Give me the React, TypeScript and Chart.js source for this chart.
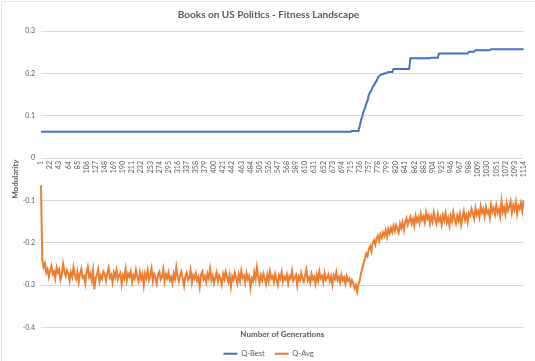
import React, { useEffect, useRef } from "react";
import { Chart, registerables } from "chart.js";

Chart.register(...registerables);

const TITLE = "Books on US Politics - Fitness Landscape";
const Y_TITLE = "Modularity";
const X_TITLE = "Number of Generations";

// Generations sampled every 3 (tick labels shown every 21)
const GENERATIONS = [
  1, 4, 7, 10, 13, 16, 19, 22, 25, 28, 31, 34, 37, 40, 43, 46, 49, 52, 55, 58,
  61, 64, 67, 70, 73, 76, 79, 82, 85, 88, 91, 94, 97, 100, 103, 106, 109, 112, 115, 118,
  121, 124, 127, 130, 133, 136, 139, 142, 145, 148, 151, 154, 157, 160, 163, 166, 169, 172, 175, 178,
  181, 184, 187, 190, 193, 196, 199, 202, 205, 208, 211, 214, 217, 220, 223, 226, 229, 232, 235, 238,
  241, 244, 247, 250, 253, 256, 259, 262, 265, 268, 271, 274, 277, 280, 283, 286, 289, 292, 295, 298,
  301, 304, 307, 310, 313, 316, 319, 322, 325, 328, 331, 334, 337, 340, 343, 346, 349, 352, 355, 358,
  361, 364, 367, 370, 373, 376, 379, 382, 385, 388, 391, 394, 397, 400, 403, 406, 409, 412, 415, 418,
  421, 424, 427, 430, 433, 436, 439, 442, 445, 448, 451, 454, 457, 460, 463, 466, 469, 472, 475, 478,
  481, 484, 487, 490, 493, 496, 499, 502, 505, 508, 511, 514, 517, 520, 523, 526, 529, 532, 535, 538,
  541, 544, 547, 550, 553, 556, 559, 562, 565, 568, 571, 574, 577, 580, 583, 586, 589, 592, 595, 598,
  601, 604, 607, 610, 613, 616, 619, 622, 625, 628, 631, 634, 637, 640, 643, 646, 649, 652, 655, 658,
  661, 664, 667, 670, 673, 676, 679, 682, 685, 688, 691, 694, 697, 700, 703, 706, 709, 712, 715, 718,
  721, 724, 727, 730, 733, 736, 739, 742, 745, 748, 751, 754, 757, 760, 763, 766, 769, 772, 775, 778,
  781, 784, 787, 790, 793, 796, 799, 802, 805, 808, 811, 814, 817, 820, 823, 826, 829, 832, 835, 838,
  841, 844, 847, 850, 853, 856, 859, 862, 865, 868, 871, 874, 877, 880, 883, 886, 889, 892, 895, 898,
  901, 904, 907, 910, 913, 916, 919, 922, 925, 928, 931, 934, 937, 940, 943, 946, 949, 952, 955, 958,
  961, 964, 967, 970, 973, 976, 979, 982, 985, 988, 991, 994, 997, 1000, 1003, 1006, 1009, 1012, 1015, 1018,
  1021, 1024, 1027, 1030, 1033, 1036, 1039, 1042, 1045, 1048, 1051, 1054, 1057, 1060, 1063, 1066, 1069, 1072, 1075, 1078,
  1081, 1084, 1087, 1090, 1093, 1096, 1099, 1102, 1105, 1108, 1111, 1114,
];

const Q_BEST = [
  0.062, 0.062, 0.062, 0.062, 0.062, 0.062, 0.062, 0.062, 0.062, 0.062,
  0.062, 0.062, 0.062, 0.062, 0.062, 0.062, 0.062, 0.062, 0.062, 0.062,
  0.062, 0.062, 0.062, 0.062, 0.062, 0.062, 0.062, 0.062, 0.062, 0.062,
  0.062, 0.062, 0.062, 0.062, 0.062, 0.062, 0.062, 0.062, 0.062, 0.062,
  0.062, 0.062, 0.062, 0.062, 0.062, 0.062, 0.062, 0.062, 0.062, 0.062,
  0.062, 0.062, 0.062, 0.062, 0.062, 0.062, 0.062, 0.062, 0.062, 0.062,
  0.062, 0.062, 0.062, 0.062, 0.062, 0.062, 0.062, 0.062, 0.062, 0.062,
  0.062, 0.062, 0.062, 0.062, 0.062, 0.062, 0.062, 0.062, 0.062, 0.062,
  0.062, 0.062, 0.062, 0.062, 0.062, 0.062, 0.062, 0.062, 0.062, 0.062,
  0.062, 0.062, 0.062, 0.062, 0.062, 0.062, 0.062, 0.062, 0.062, 0.062,
  0.062, 0.062, 0.062, 0.062, 0.062, 0.062, 0.062, 0.062, 0.062, 0.062,
  0.062, 0.062, 0.062, 0.062, 0.062, 0.062, 0.062, 0.062, 0.062, 0.062,
  0.062, 0.062, 0.062, 0.062, 0.062, 0.062, 0.062, 0.062, 0.062, 0.062,
  0.062, 0.062, 0.062, 0.062, 0.062, 0.062, 0.062, 0.062, 0.062, 0.062,
  0.062, 0.062, 0.062, 0.062, 0.062, 0.062, 0.062, 0.062, 0.062, 0.062,
  0.062, 0.062, 0.062, 0.062, 0.062, 0.062, 0.062, 0.062, 0.062, 0.062,
  0.062, 0.062, 0.062, 0.062, 0.062, 0.062, 0.062, 0.062, 0.062, 0.062,
  0.062, 0.062, 0.062, 0.062, 0.062, 0.062, 0.062, 0.062, 0.062, 0.062,
  0.062, 0.062, 0.062, 0.062, 0.062, 0.062, 0.062, 0.062, 0.062, 0.062,
  0.062, 0.062, 0.062, 0.062, 0.062, 0.062, 0.062, 0.062, 0.062, 0.062,
  0.062, 0.062, 0.062, 0.062, 0.062, 0.062, 0.062, 0.062, 0.062, 0.062,
  0.062, 0.062, 0.062, 0.062, 0.062, 0.062, 0.062, 0.062, 0.062, 0.062,
  0.062, 0.062, 0.062, 0.062, 0.062, 0.062, 0.062, 0.062, 0.062, 0.062,
  0.062, 0.062, 0.062, 0.062, 0.062, 0.062, 0.062, 0.062, 0.062, 0.064,
  0.064, 0.064, 0.064, 0.064, 0.064, 0.075, 0.09, 0.098, 0.11, 0.118,
  0.128, 0.135, 0.15, 0.155, 0.16, 0.168, 0.172, 0.178, 0.182, 0.19,
  0.194, 0.196, 0.198, 0.198, 0.2, 0.2, 0.201, 0.203, 0.203, 0.203,
  0.203, 0.21, 0.21, 0.21, 0.21, 0.21, 0.21, 0.21, 0.21, 0.21,
  0.21, 0.21, 0.21, 0.21, 0.2355, 0.2355, 0.2355, 0.2355, 0.2355, 0.2355,
  0.2355, 0.2355, 0.2355, 0.2355, 0.2355, 0.2355, 0.2355, 0.2355, 0.2355, 0.2355,
  0.237, 0.237, 0.237, 0.237, 0.237, 0.237, 0.2466, 0.2466, 0.2466, 0.2466,
  0.2466, 0.2466, 0.2466, 0.2466, 0.2466, 0.2466, 0.2466, 0.2466, 0.2466, 0.2466,
  0.2466, 0.2466, 0.2466, 0.2466, 0.2466, 0.2466, 0.2466, 0.2466, 0.2466, 0.251,
  0.251, 0.251, 0.251, 0.251, 0.2546, 0.2546, 0.2546, 0.2546, 0.2546, 0.2546,
  0.2546, 0.2546, 0.2546, 0.2546, 0.2546, 0.2546, 0.257, 0.257, 0.257, 0.257,
  0.257, 0.257, 0.257, 0.257, 0.257, 0.257, 0.257, 0.257, 0.257, 0.257,
  0.257, 0.257, 0.257, 0.257, 0.257, 0.257, 0.257, 0.257, 0.257, 0.257,
  0.257, 0.257,
];

const Q_AVG = [
  -0.065, -0.24, -0.258, -0.249, -0.27, -0.262, -0.281, -0.266, -0.255, -0.274,
  -0.268, -0.284, -0.259, -0.271, -0.263, -0.288, -0.276, -0.25, -0.268, -0.279,
  -0.265, -0.272, -0.29, -0.27, -0.281, -0.258, -0.277, -0.286, -0.269, -0.293,
  -0.274, -0.262, -0.283, -0.279, -0.296, -0.27, -0.257, -0.281, -0.273, -0.289,
  -0.266, -0.31, -0.284, -0.275, -0.263, -0.292, -0.278, -0.285, -0.268, -0.274,
  -0.29, -0.271, -0.259, -0.283, -0.276, -0.294, -0.27, -0.281, -0.265, -0.287,
  -0.278, -0.272, -0.298, -0.276, -0.284, -0.262, -0.289, -0.273, -0.28, -0.268,
  -0.293, -0.277, -0.285, -0.264, -0.279, -0.291, -0.27, -0.286, -0.275, -0.3,
  -0.272, -0.283, -0.266, -0.288, -0.278, -0.261, -0.29, -0.274, -0.282, -0.297,
  -0.276, -0.269, -0.287, -0.28, -0.263, -0.292, -0.275, -0.284, -0.27, -0.289,
  -0.281, -0.296, -0.273, -0.285, -0.258, -0.279, -0.291, -0.276, -0.268, -0.286,
  -0.302, -0.279, -0.271, -0.288, -0.283, -0.265, -0.294, -0.277, -0.285, -0.272,
  -0.29, -0.281, -0.304, -0.276, -0.268, -0.287, -0.279, -0.293, -0.273, -0.284,
  -0.262, -0.289, -0.278, -0.296, -0.282, -0.27, -0.291, -0.277, -0.285, -0.299,
  -0.274, -0.286, -0.268, -0.281, -0.293, -0.276, -0.303, -0.28, -0.288, -0.271,
  -0.284, -0.296, -0.275, -0.29, -0.266, -0.283, -0.278, -0.294, -0.272, -0.287,
  -0.279, -0.306, -0.284, -0.291, -0.27, -0.286, -0.258, -0.281, -0.295, -0.277,
  -0.289, -0.273, -0.284, -0.298, -0.276, -0.291, -0.268, -0.285, -0.279, -0.293,
  -0.274, -0.288, -0.3, -0.277, -0.285, -0.269, -0.292, -0.281, -0.287, -0.275,
  -0.296, -0.279, -0.284, -0.266, -0.29, -0.283, -0.276, -0.301, -0.28, -0.288,
  -0.271, -0.285, -0.292, -0.278, -0.264, -0.289, -0.282, -0.295, -0.274, -0.286,
  -0.28, -0.297, -0.276, -0.29, -0.268, -0.284, -0.279, -0.293, -0.272, -0.288,
  -0.283, -0.275, -0.291, -0.279, -0.299, -0.277, -0.286, -0.27, -0.289, -0.281,
  -0.294, -0.276, -0.288, -0.282, -0.297, -0.279, -0.29, -0.285, -0.3, -0.288,
  -0.295, -0.308, -0.3, -0.316, -0.298, -0.29, -0.272, -0.262, -0.248, -0.238,
  -0.226, -0.232, -0.215, -0.208, -0.22, -0.2, -0.194, -0.205, -0.19, -0.183,
  -0.196, -0.18, -0.188, -0.176, -0.184, -0.171, -0.186, -0.168, -0.178, -0.165,
  -0.175, -0.16, -0.172, -0.158, -0.167, -0.176, -0.155, -0.165, -0.152, -0.17,
  -0.152, -0.142, -0.158, -0.148, -0.139, -0.155, -0.144, -0.16, -0.137, -0.15,
  -0.14, -0.153, -0.132, -0.146, -0.138, -0.152, -0.128, -0.143, -0.135, -0.155,
  -0.138, -0.15, -0.128, -0.145, -0.155, -0.133, -0.148, -0.14, -0.158, -0.135,
  -0.147, -0.13, -0.152, -0.142, -0.16, -0.137, -0.149, -0.128, -0.145, -0.155,
  -0.136, -0.148, -0.132, -0.157, -0.14, -0.125, -0.146, -0.135, -0.152, -0.13,
  -0.136, -0.12, -0.131, -0.143, -0.118, -0.134, -0.125, -0.14, -0.114, -0.129,
  -0.121, -0.138, -0.115, -0.13, -0.124, -0.141, -0.111, -0.127, -0.118, -0.133,
  -0.112, -0.13, -0.121, -0.138, -0.102, -0.127, -0.116, -0.133, -0.108, -0.124,
  -0.115, -0.102, -0.129, -0.111, -0.122, -0.104, -0.132, -0.113, -0.12, -0.106,
  -0.125, -0.1,
];

const Y_MIN = -0.4;
const Y_MAX = 0.3;
const Y_STEP = 0.1;
const LABEL_EVERY = 7;

const TEXT = "#595959";
const GRID = "#d9d9d9";
const BLUE = "#4472C4";
const ORANGE = "#ED7D31";
const FONT = "Lato";

const frame = {
  id: "frame",
  beforeDraw(chart: any) {
    const ctx = chart.ctx;
    ctx.save();
    ctx.fillStyle = "#ffffff";
    ctx.fillRect(0, 0, chart.width, chart.height);
    ctx.strokeStyle = "#e6e6e6";
    ctx.lineWidth = 1;
    ctx.beginPath();
    ctx.moveTo(1.5, chart.height);
    ctx.lineTo(1.5, 1.5);
    ctx.lineTo(chart.width, 1.5);
    ctx.stroke();
    ctx.restore();
  },
};

export default function App() {
  const ref = useRef<HTMLCanvasElement | null>(null);

  useEffect(() => {
    if (!ref.current) return;
    const labels = GENERATIONS.map(String);
    const chart = new Chart(ref.current, {
      type: "line",
      data: {
        labels,
        datasets: [
          {
            label: "Q-Best",
            data: Q_BEST,
            borderColor: BLUE,
            backgroundColor: BLUE,
            borderWidth: 2,
            pointRadius: 0,
            tension: 0,
            xAxisID: "x",
          },
          {
            label: "Q-Avg",
            data: Q_AVG,
            borderColor: ORANGE,
            backgroundColor: ORANGE,
            borderWidth: 2,
            pointRadius: 0,
            tension: 0,
            xAxisID: "x",
          },
        ],
      },
      plugins: [frame],
      options: {
        responsive: false,
        animation: false,
        events: [],
        layout: { padding: { top: 4, left: 12, right: 10, bottom: -6.5 } },
        plugins: {
          title: {
            display: true,
            text: TITLE,
            color: TEXT,
            font: { family: FONT, size: 10, weight: "bold" },
            padding: { top: 5, bottom: 10 },
          },
          legend: {
            display: true,
            position: "bottom",
            labels: {
              color: TEXT,
              font: { family: FONT, size: 7.5 },
              boxWidth: 14,
              boxHeight: 2,
              padding: 10,
              generateLabels: (c: any) =>
                Chart.defaults.plugins.legend.labels
                  .generateLabels(c)
                  .map((l: any) => ({ ...l, lineWidth: 0, fillStyle: l.strokeStyle })),
            },
          },
          tooltip: { enabled: false },
        },
        scales: {
          x: {
            type: "category",
            position: { y: 0 } as any,
            grid: { display: false, drawTicks: false },
            border: { display: false },
            ticks: {
              autoSkip: false,
              minRotation: 90,
              maxRotation: 90,
              padding: 3,
              color: TEXT,
              font: { family: FONT, size: 7 },
              callback: (_v: any, i: number) => (i % LABEL_EVERY === 0 ? String(GENERATIONS[i]) : ""),
            },
          },
          x2: {
            type: "category",
            position: "bottom",
            grid: { display: false, drawTicks: false },
            border: { display: false },
            ticks: { display: false },
            title: {
              display: true,
              text: X_TITLE,
              color: TEXT,
              font: { family: FONT, size: 8, weight: "bold" },
              padding: { top: 2, bottom: 1 },
            },
          },
          y: {
            min: Y_MIN,
            max: Y_MAX,
            grid: { color: GRID, drawTicks: false, lineWidth: 1 },
            border: { display: false },
            afterFit: (s: any) => {
              s.width = 29;
            },
            ticks: {
              stepSize: Y_STEP,
              padding: 6,
              color: TEXT,
              font: { family: FONT, size: 7 },
              callback: (v: any) => {
                const r = Math.round(Number(v) * 10) / 10;
                return String(Math.abs(r) < 1e-9 ? 0 : r);
              },
            },
            title: {
              display: true,
              text: Y_TITLE,
              color: TEXT,
              font: { family: FONT, size: 8, weight: "bold" },
              padding: { top: -1, bottom: 0 },
            },
          },
        },
      },
    });
    return () => chart.destroy();
  }, []);

  return (
    <div style={{ position: "absolute", left: 0, top: 0, width: 535, height: 361, background: "#fff" }}>
      <canvas ref={ref} width={535} height={361} />
    </div>
  );
}
